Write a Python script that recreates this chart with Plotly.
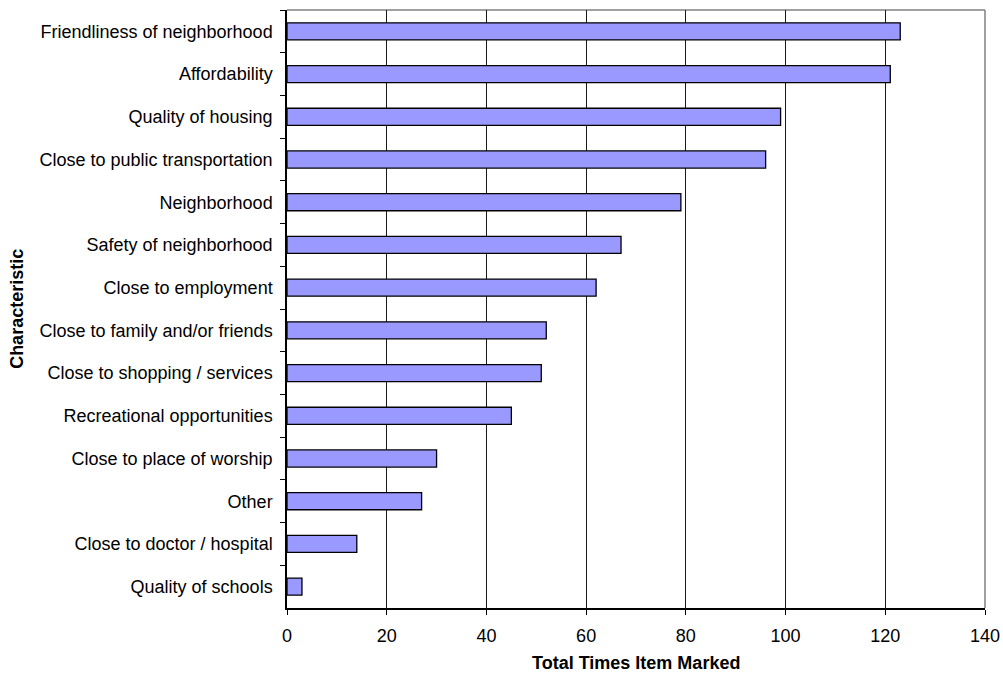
import plotly.graph_objects as go

# Survey results: how many times each neighborhood characteristic was marked
characteristics = [
    "Friendliness of neighborhood",
    "Affordability",
    "Quality of housing",
    "Close to public transportation",
    "Neighborhood",
    "Safety of neighborhood",
    "Close to employment",
    "Close to family and/or friends",
    "Close to shopping / services",
    "Recreational opportunities",
    "Close to place of worship",
    "Other",
    "Close to doctor / hospital",
    "Quality of schools",
]
times_marked = [123, 121, 99, 96, 79, 67, 62, 52, 51, 45, 30, 27, 14, 3]
x_ticks = [0, 20, 40, 60, 80, 100, 120, 140]

FONT = "Liberation Sans, Arial, sans-serif"

fig = go.Figure(
    go.Bar(
        x=times_marked,
        y=characteristics,
        orientation="h",
        width=0.4,
        marker=dict(color="#9999FF", line=dict(color="#000000", width=1.3)),
        hoverinfo="x+y",
    )
)

fig.update_layout(
    width=1003,
    height=677,
    margin=dict(l=287, r=18, t=10, b=69, autoexpand=False),
    paper_bgcolor="white",
    plot_bgcolor="white",
    showlegend=False,
    font=dict(family=FONT, size=18, color="#000000"),
    xaxis=dict(
        range=[0, 140],
        tickmode="array",
        tickvals=x_ticks,
        ticktext=[str(v) for v in x_ticks],
        showgrid=True,
        gridcolor="#1a1a1a",
        gridwidth=1,
        zeroline=False,
        showline=True,
        linecolor="#000000",
        linewidth=1.5,
        ticks="outside",
        ticklen=5,
        tickcolor="#000000",
        tickfont=dict(size=18),
        ticklabelstandoff=6,
        automargin=False,
        fixedrange=True,
    ),
    yaxis=dict(
        categoryorder="array",
        categoryarray=characteristics,
        autorange="reversed",
        showgrid=False,
        zeroline=False,
        showline=True,
        linecolor="#000000",
        linewidth=1.5,
        ticks="outside",
        tickson="boundaries",
        ticklen=5,
        tickcolor="#000000",
        tickfont=dict(size=18),
        ticklabelstandoff=9,
        automargin=False,
        fixedrange=True,
    ),
    shapes=[
        # light plot-area frame on the top and right edges
        dict(type="line", xref="paper", yref="paper", x0=0, x1=1, y0=1, y1=1,
             line=dict(color="#808080", width=1.5), layer="below"),
        dict(type="line", xref="paper", yref="paper", x0=1, x1=1, y0=0, y1=1,
             line=dict(color="#808080", width=1.5), layer="below"),
    ],
    annotations=[
        dict(text="<b>Total Times Item Marked</b>", xref="paper", yref="paper",
             x=0.5, y=-0.092, xanchor="center", yanchor="middle",
             showarrow=False, font=dict(size=18)),
        dict(text="<b>Characteristic</b>", xref="paper", yref="paper",
             x=-0.387, y=0.5, xanchor="center", yanchor="middle", textangle=-90,
             showarrow=False, font=dict(size=18)),
    ],
)

fig.write_html("out.html")
